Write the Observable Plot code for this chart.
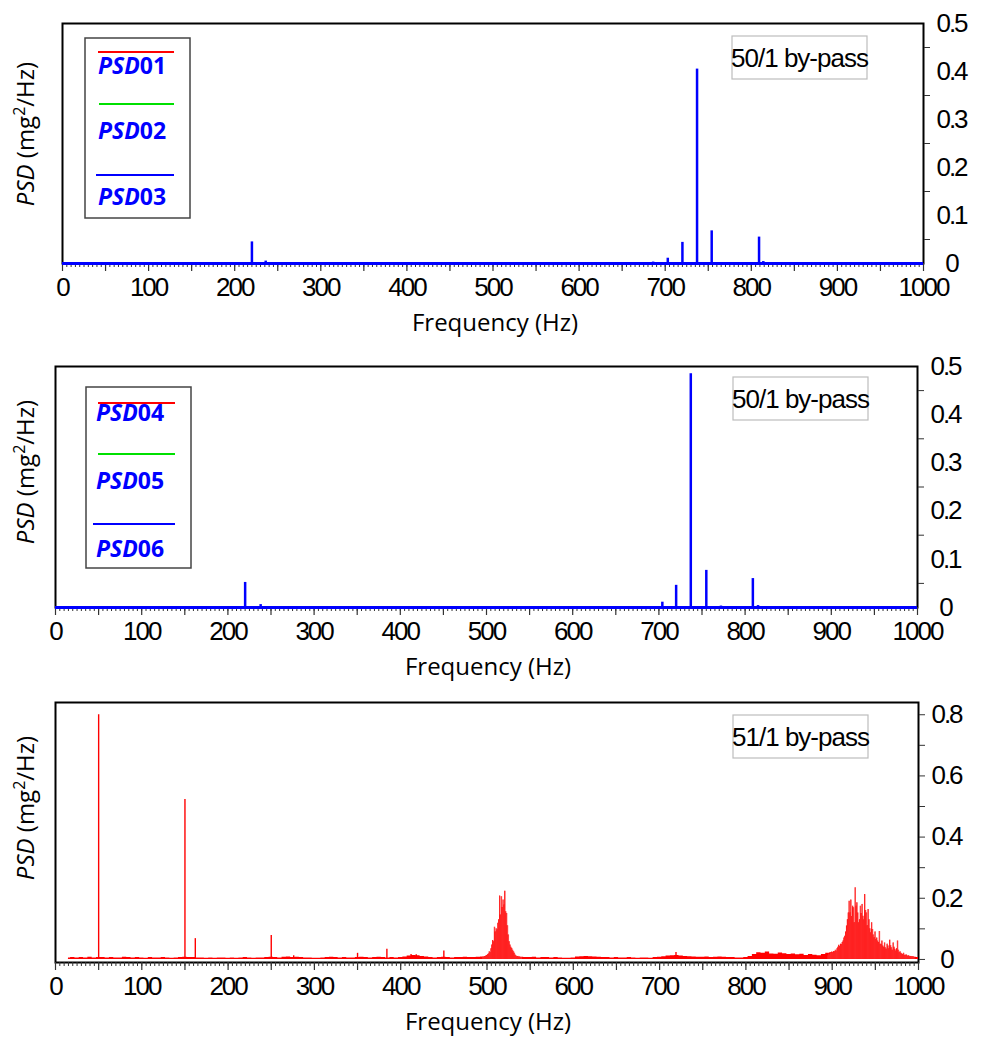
<!DOCTYPE html>
<html><head><meta charset="utf-8">
<script src="https://cdn.jsdelivr.net/npm/d3@7"></script>
<script src="https://cdn.jsdelivr.net/npm/@observablehq/plot@0.6"></script>
<style>
body{margin:0;background:#fff;}
#chart{width:984px;}
#chart svg{display:block;}
#chart svg g[aria-label$="tick label"] text{letter-spacing:-2px;}
</style></head><body><div id="chart"></div>
<script>
// ---------- data ----------
const xLabelTicks = [0,100,200,300,400,500,600,700,800,900,1000];
const xMidTicks = [0,50,100,150,200,250,300,350,400,450,500,550,600,650,700,750,800,850,900,950,1000];
const xMinorTicks = d3.range(0, 1001, 5);

const yLabels05 = [0,0.1,0.2,0.3,0.4,0.5];
const yMinor05 = [0.05,0.15,0.25,0.35,0.45];
const yLabels08 = [0,0.2,0.4,0.6,0.8];
const yMinor08 = [0,0.1,0.2,0.3,0.4,0.5,0.6,0.7,0.8];

// panel 1 (PSD03, blue; PSD01/PSD02 hidden below it)
const p1Freq = [220, 236, 686, 703, 720, 737, 754, 772, 809, 814];
const p1Psd  = [0.045, 0.005, 0.003, 0.011, 0.044, 0.405, 0.068, 0.002, 0.055, 0.004];

// panel 2 (PSD06, blue)
const p2Freq = [220, 238, 704, 720, 737, 755, 772, 809, 815];
const p2Psd  = [0.052, 0.006, 0.011, 0.046, 0.485, 0.077, 0.003, 0.060, 0.004];

// panel 3 (51/1 by-pass, red): noise floor every 5 Hz from 15 Hz to 1000 Hz
const p3FloorStart = 15, p3FloorStep = 5;
const p3Floor = [
 0.005,0.006,0.005,0.006,0.005,0.007,0.005,0.006,0.006,0.005,0.006,0.005,0.005,0.007,0.006,0.005,0.006,
 0.005,0.004,0.006,0.005,0.005,0.006,0.005,0.004,0.005,0.006,0.007,0.006,0.006,0.005,0.005,0.004,0.005,0.004,0.005,0.005,
 0.004,0.005,0.004,0.005,0.006,0.005,0.004,0.005,0.005,0.006,0.007,0.006,0.005,0.007,0.008,0.006,0.007,0.006,0.005,0.005,
 0.004,0.004,0.005,0.006,0.007,0.006,0.005,0.006,0.005,0.005,0.006,0.007,0.006,0.005,0.006,0.007,0.006,0.005,0.006,0.005,
 0.006,0.008,0.011,0.013,0.012,0.010,0.008,0.006,0.005,0.006,0.007,0.006,0.005,0.006,0.006,0.007,0.006,0.006,0.007,0.008,
 0.010,0.010,0.010,0.010,0.010,0.010,0.010,0.008,0.007,0.006,0.006,0.007,0.005,0.006,0.006,0.005,0.006,0.005,0.004,0.004,
 0.005,0.008,0.009,0.010,0.009,0.008,0.007,0.006,0.006,0.005,0.006,0.005,0.005,0.006,0.005,0.004,0.005,0.005,0.004,0.006,
 0.007,0.009,0.011,0.012,0.013,0.011,0.010,0.009,0.008,0.007,0.007,0.008,0.006,0.007,0.008,0.007,0.006,0.006,0.005,0.005,
 0.006,0.010,0.016,0.022,0.020,0.024,0.018,0.017,0.021,0.019,0.016,0.018,0.015,0.017,0.013,0.016,0.014,0.012,0.016,0.020,
 0.022,0.025,0.030,0.040,0.060,0.080,0.090,0.080,0.060,0.050,0.040,0.035,0.030,0.025,0.020,0.015,0.012,0.010,0.008,0.007,
 0.006
];
// dense band around 515 Hz, 1 Hz bins from 495 Hz
const p3Band1Start = 495;
const p3Band1 = [
 0.007,0.006,0.008,0.009,0.011,0.013,0.015,0.018,0.025,0.022,
 0.035,0.047,0.062,0.058,0.105,0.090,0.100,0.096,0.118,0.130,
 0.207,0.145,0.205,0.170,0.194,0.178,0.223,0.156,0.150,0.110,
 0.080,0.058,0.047,0.040,0.036,0.030,0.025,0.020,0.014,0.011,
 0.009,0.010,0.007,0.008,0.006,0.006
];
// dense band around 930 Hz, 1 Hz bins from 895 Hz
const p3Band2Start = 895;
const p3Band2 = [
 0.012,0.018,0.015,0.022,0.020,0.024,0.021,0.026,0.023,0.030,
 0.027,0.035,0.040,0.046,0.042,0.050,0.049,0.055,0.060,0.070,
 0.076,0.090,0.109,0.130,0.152,0.190,0.152,0.194,0.140,0.174,
 0.169,0.120,0.234,0.174,0.185,0.152,0.120,0.130,0.174,0.150,
 0.180,0.141,0.130,0.212,0.160,0.152,0.110,0.163,0.130,0.100,
 0.087,0.120,0.098,0.080,0.071,0.090,0.065,0.070,0.060,0.055,
 0.091,0.050,0.049,0.060,0.044,0.040,0.054,0.038,0.033,0.050,
 0.044,0.035,0.063,0.045,0.038,0.030,0.054,0.040,0.033,0.028,
 0.035,0.060,0.030,0.022,0.025,0.020,0.018,0.016,0.020,0.014,
 0.013,0.015,0.013,0.010,0.012,0.009,0.010,0.009,0.008,0.009,
 0.007
];
// isolated spectral lines
const p3SpikeFreq = [50, 150, 162, 250, 276, 350, 384, 412, 418, 450, 719];
const p3SpikePsd  = [0.800, 0.523, 0.068, 0.078, 0.012, 0.020, 0.033, 0.016, 0.015, 0.028, 0.023];

// ---------- helpers ----------
const tickFont = '"Liberation Sans Narrow","Arial Narrow","Liberation Sans",Arial,sans-serif';
const titleFont = '"Open Sans","Noto Sans",sans-serif';
const toRows = (fs, vs) => fs.map((f, i) => ({f, v: vs[i]}));
const seriesRows = (start, step, vs) => vs.map((v, i) => ({f: start + i * step, v}));

function xAxes() {
  return [
    Plot.axisX(xMinorTicks, {tickSize: 4, tickFormat: () => "", label: null, stroke: "#333"}),
    Plot.axisX(xMidTicks, {tickSize: 8, tickFormat: () => "", label: null, stroke: "#333", strokeWidth: 1.2}),
    Plot.axisX(xLabelTicks, {tickSize: 0, tickPadding: 14, label: null, tickFormat: d => String(d), fill: "#000"})
  ];
}
function yAxes(minor, labels) {
  return [
    Plot.axisY(minor, {anchor: "right", tickSize: 6, tickFormat: () => "", label: null, stroke: "#333"}),
    Plot.axisY(labels, {anchor: "right", tickSize: 0, tickPadding: 28, textAnchor: "middle", label: null,
      tickFormat: d => d === 0 ? "0" : String(d), fill: "#000"})
  ];
}

function decorate(svg, o) {
  const s = d3.select(svg);
  // x title
  s.append("text").attr("x", o.xTitleX).attr("y", o.xTitleY)
    .attr("text-anchor", "middle").attr("font-family", titleFont).attr("font-size", 24).attr("fill", "#000")
    .text("Frequency (Hz)");
  // y title
  const yt = s.append("text").attr("transform", `translate(${o.yTitleX},${o.yTitleY}) rotate(-90)`)
    .attr("text-anchor", "middle").attr("font-family", titleFont).attr("font-size", 24).attr("fill", "#000");
  yt.append("tspan").attr("font-style", "italic").text("PSD");
  yt.append("tspan").text(" (mg");
  yt.append("tspan").attr("dy", -9).attr("font-size", 16).text("2");
  yt.append("tspan").attr("dy", 9).text("/Hz)");
  // info box
  const b = o.info;
  s.append("rect").attr("x", b.x).attr("y", b.y).attr("width", b.w).attr("height", b.h)
    .attr("fill", "#fff").attr("stroke", "#bdbdbd").attr("stroke-width", 1.2);
  s.append("text").attr("x", b.x + b.w / 2).attr("y", b.y + b.h / 2 + 9)
    .attr("text-anchor", "middle").attr("font-family", tickFont).attr("font-size", 26)
    .attr("letter-spacing", "-1px").attr("fill", "#000")
    .text(b.text);
  // legend
  if (o.legend) {
    const L = o.legend;
    s.append("rect").attr("x", L.x).attr("y", L.y).attr("width", L.w).attr("height", L.h)
      .attr("fill", "#fff").attr("stroke", "#444").attr("stroke-width", 1.5);
    L.items.forEach(it => {
      s.append("line").attr("x1", it.lx1).attr("x2", it.lx2).attr("y1", it.ly).attr("y2", it.ly)
        .attr("stroke", it.color).attr("stroke-width", 2);
      const t = s.append("text").attr("x", it.tx).attr("y", it.ty).attr("text-anchor", "start")
        .attr("font-family", titleFont).attr("font-size", 23).attr("font-weight", "bold").attr("fill", "#0000ff");
      t.append("tspan").attr("font-style", "italic").text("PSD");
      t.append("tspan").text(it.num);
    });
  }
}

const chart = document.getElementById("chart");
const plotStyle = {fontFamily: tickFont, fontSize: "26px", background: "#fff", color: "#000"};

// ---------- panel 1 ----------
{
  const rows = toRows(p1Freq, p1Psd);
  const svg = Plot.plot({
    width: 984, height: 345,
    marginTop: 23, marginBottom: 82, marginLeft: 62, marginRight: 61,
    x: {domain: [0, 1000]},
    y: {domain: [0, 0.5]},
    style: plotStyle,
    marks: [
      Plot.frame({stroke: "#000", strokeWidth: 2}),
      ...xAxes(),
      ...yAxes(yMinor05, yLabels05),
      Plot.ruleY([0], {stroke: "#0000ff", strokeWidth: 3}),
      Plot.ruleX(rows, {x: "f", y1: 0, y2: "v", stroke: "#0000ff", strokeWidth: 2.5})
    ]
  });
  chart.appendChild(svg);
  decorate(svg, {
    xTitleX: 495, xTitleY: 331, yTitleX: 34, yTitleY: 134,
    info: {x: 732, y: 36, w: 135, h: 43, text: "50/1 by-pass"},
    legend: {x: 85, y: 38, w: 105, h: 180, items: [
      {color: "#ff0000", lx1: 98, lx2: 174, ly: 52, tx: 98, ty: 74, num: "01"},
      {color: "#00e000", lx1: 99, lx2: 174, ly: 104, tx: 98, ty: 139, num: "02"},
      {color: "#0000ff", lx1: 96, lx2: 174, ly: 175, tx: 98, ty: 205, num: "03"}
    ]}
  });
}

// ---------- panel 2 ----------
{
  const rows = toRows(p2Freq, p2Psd);
  const svg = Plot.plot({
    width: 984, height: 345,
    marginTop: 21, marginBottom: 83, marginLeft: 55, marginRight: 67,
    x: {domain: [0, 1000]},
    y: {domain: [0, 0.5]},
    style: plotStyle,
    marks: [
      Plot.frame({stroke: "#000", strokeWidth: 2}),
      ...xAxes(),
      ...yAxes(yMinor05, yLabels05),
      Plot.ruleY([0], {stroke: "#0000ff", strokeWidth: 3}),
      Plot.ruleX(rows, {x: "f", y1: 0, y2: "v", stroke: "#0000ff", strokeWidth: 2.5})
    ]
  });
  chart.appendChild(svg);
  decorate(svg, {
    xTitleX: 488, xTitleY: 330, yTitleX: 34, yTitleY: 127,
    info: {x: 733, y: 32, w: 135, h: 43, text: "50/1 by-pass"},
    legend: {x: 86, y: 42, w: 105, h: 181, items: [
      {color: "#ff0000", lx1: 98, lx2: 175, ly: 58, tx: 96, ty: 76, num: "04"},
      {color: "#00e000", lx1: 98, lx2: 175, ly: 109, tx: 96, ty: 144, num: "05"},
      {color: "#0000ff", lx1: 93, lx2: 175, ly: 179, tx: 96, ty: 212, num: "06"}
    ]}
  });
}

// ---------- panel 3 ----------
{
  const floorRows = seriesRows(p3FloorStart, p3FloorStep, p3Floor);
  const band1Rows = seriesRows(p3Band1Start, 1, p3Band1);
  const band2Rows = seriesRows(p3Band2Start, 1, p3Band2);
  const spikes = toRows(p3SpikeFreq, p3SpikePsd);
  const svg = Plot.plot({
    width: 984, height: 351,
    marginTop: 12, marginBottom: 79, marginLeft: 55, marginRight: 66,
    x: {domain: [0, 1000]},
    y: {domain: [-0.01, 0.84]},
    style: plotStyle,
    marks: [
      Plot.frame({stroke: "#000", strokeWidth: 2}),
      ...xAxes(),
      ...yAxes(yMinor08, yLabels08),
      Plot.areaY(floorRows, {x: "f", y1: 0, y2: "v", curve: "step", fill: "#ff0000"}),
      Plot.areaY(band1Rows, {x: "f", y1: 0, y2: "v", curve: "step", fill: "#ff0000"}),
      Plot.areaY(band2Rows, {x: "f", y1: 0, y2: "v", curve: "step", fill: "#ff0000"}),
      Plot.ruleX(band1Rows, {x: "f", y1: 0, y2: "v", stroke: "#ff3030", strokeWidth: 0.8}),
      Plot.ruleX(band2Rows, {x: "f", y1: 0, y2: "v", stroke: "#ff3030", strokeWidth: 0.8}),
      Plot.ruleX(spikes, {x: "f", y1: 0, y2: "v", stroke: "#ff0000", strokeWidth: 1.4})
    ]
  });
  chart.appendChild(svg);
  decorate(svg, {
    xTitleX: 488, xTitleY: 340, yTitleX: 34, yTitleY: 118,
    info: {x: 733, y: 25, w: 135, h: 43, text: "51/1 by-pass"}
  });
}
</script></body></html>
